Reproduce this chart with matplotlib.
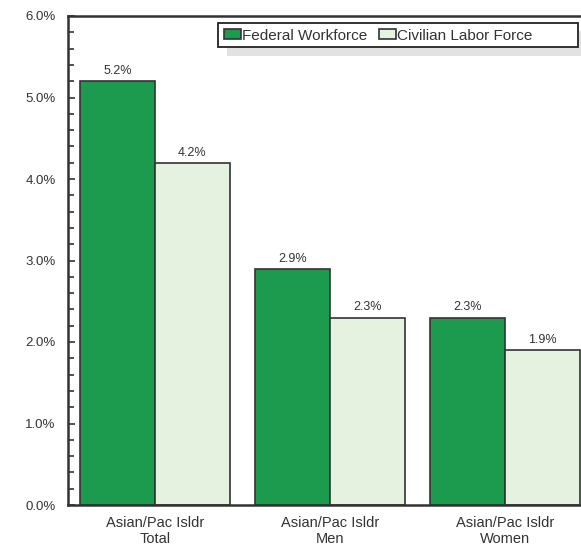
import matplotlib
matplotlib.use("Agg")
import matplotlib.pyplot as plt
import numpy as np
from matplotlib.ticker import MultipleLocator, FuncFormatter
from matplotlib.patches import Rectangle

categories = ["Asian/Pac Isldr\nTotal", "Asian/Pac Isldr\nMen", "Asian/Pac Isldr\nWomen"]
federal = [5.2, 2.9, 2.3]
civilian = [4.2, 2.3, 1.9]
series_names = ["Federal Workforce", "Civilian Labor Force"]

plt.rcParams['font.family'] = ['Liberation Sans', 'DejaVu Sans']

fig = plt.figure(figsize=(5.81, 5.5), dpi=100)
ax = fig.add_axes([68/581, 1-505/550, 1-68/581, (505-16)/550])

x = np.arange(len(categories))
w = 75/175
green = "#1c9a4e"
light = "#e6f2e0"
edge = "#333333"
b1 = ax.bar(x - w/2, federal, w, color=green, edgecolor=edge, linewidth=1.2, label=series_names[0])
b2 = ax.bar(x + w/2, civilian, w, color=light, edgecolor=edge, linewidth=1.2, label=series_names[1])

for bars, vals in ((b1, federal), (b2, civilian)):
    for r, v in zip(bars, vals):
        ax.text(r.get_x() + r.get_width()/2, v + 0.05, f"{v:.1f}%", ha="center", va="bottom",
                fontsize=9, color="#333333")

ax.set_xlim((68-155)/175, (581-155)/175)
ax.set_ylim(0, 6.0)
ax.yaxis.set_major_locator(MultipleLocator(1.0))
ax.yaxis.set_minor_locator(MultipleLocator(0.2))
ax.yaxis.set_major_formatter(FuncFormatter(lambda v, p: f"{v:.1f}%"))
ax.tick_params(axis='y', which='both', direction='in', width=1.2, color="#333333",
               labelsize=9.5, labelcolor="#333333", pad=9)
ax.tick_params(axis='y', which='major', length=5)
ax.tick_params(axis='y', which='minor', length=4)
ax.set_xticks(x)
ax.set_xticklabels(categories, fontsize=10.5, color="#333333")
ax.tick_params(axis='x', length=0, pad=8)

for s in ("left", "bottom", "top"):
    ax.spines[s].set_linewidth(1.8)
    ax.spines[s].set_color("#333333")
ax.spines["right"].set_visible(False)

# legend box (pixel geometry converted to axes fraction)
def ax_x(px):
    return (px - 68) / 513
def ax_y(py):
    return (505 - py) / 489

shadow = Rectangle((ax_x(227), ax_y(56)), ax_x(590) - ax_x(227), ax_y(31) - ax_y(56),
                   transform=ax.transAxes, facecolor="#e2e2e2", edgecolor="none",
                   zorder=3.9, clip_on=False)
box = Rectangle((ax_x(218), ax_y(47)), ax_x(578) - ax_x(218), ax_y(23) - ax_y(47),
                transform=ax.transAxes, facecolor="white", edgecolor="#222222",
                linewidth=1.3, zorder=4, clip_on=False)
ax.add_patch(shadow)
ax.add_patch(box)

leg = ax.legend(loc="center left", bbox_to_anchor=(ax_x(224), ax_y(35.5)), ncol=2, frameon=False,
                fontsize=11,
                handlelength=1.1, handleheight=0.55, handletextpad=0.05, columnspacing=0.8,
                borderpad=0, borderaxespad=0)
leg.set_zorder(5)
for t in leg.get_texts():
    t.set_color("#333333")

fig.savefig("out.png", dpi=100)
